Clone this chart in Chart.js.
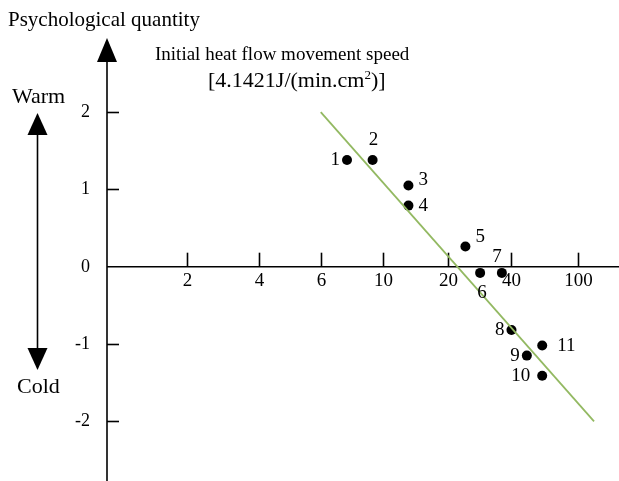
<!DOCTYPE html>
<html>
<head>
<meta charset="utf-8">
<script src="https://cdn.jsdelivr.net/npm/chart.js@4/dist/chart.umd.min.js"></script>
<style>
    body { margin: 0; background: #fff; }
</style>
</head>
<body>
<canvas id="chart" width="619" height="481"></canvas>
<script>
// heat flow axis is not evenly spaced, ticks sit at these places on the drawn axis
var xTickLabels = ['2', '4', '6', '10', '20', '40', '100'];
var xTickPos = [1.25, 2.37, 3.34, 4.31, 5.33, 6.31, 7.36];
var yTicks = [-2, -1, 0, 1, 2];

// measured points (psychological quantity vs heat flow speed)
var pointNames = ['1', '2', '3', '4', '5', '6', '7', '8', '9', '10', '11'];
var pointX = [3.75, 4.15, 4.71, 4.71, 5.6, 5.83, 6.17, 6.32, 6.56, 6.8, 6.8];
var pointY = [1.38, 1.38, 1.05, 0.79, 0.26, -0.08, -0.08, -0.82, -1.15, -1.41, -1.02];

// regression line ends
var fitX = [3.34, 7.61];
var fitY = [2, -2];

// where each number goes next to its dot: [dx, dy, align]
var labelPlace = [
    [-7, 0, 'right'], [1, -20, 'center'], [10, -5, 'left'], [10, 0, 'left'],
    [10, -10, 'left'], [2, 20, 'center'], [-5, -16, 'center'], [-7, 0, 'right'],
    [-7, 0, 'right'], [-12, 0, 'right'], [15, 0, 'left'],
];

var SERIF = '"Liberation Serif", "Times New Roman", serif';

function arrowHead(ctx, x, y, dir, w, len) {
    // dir = -1 points up, 1 points down
    ctx.beginPath();
    ctx.moveTo(x, y);
    ctx.lineTo(x - w / 2, y - dir * len);
    ctx.lineTo(x + w / 2, y - dir * len);
    ctx.closePath();
    ctx.fill();
}

var axesPlugin = {
    id: 'axesPlugin',
    beforeDatasetsDraw(chart) {
        var ctx = chart.ctx;
        var xs = chart.scales.x;
        var ys = chart.scales.y;
        var x0 = xs.getPixelForValue(0);
        var y0 = ys.getPixelForValue(0);
        ctx.save();
        ctx.strokeStyle = '#000';
        ctx.fillStyle = '#000';
        ctx.lineWidth = 1.6;
        // y axis
        ctx.beginPath();
        ctx.moveTo(x0, 55);
        ctx.lineTo(x0, 481);
        ctx.stroke();
        arrowHead(ctx, x0, 38, -1, 20, 24);
        // x axis
        ctx.beginPath();
        ctx.moveTo(x0, y0);
        ctx.lineTo(619, y0);
        ctx.stroke();

        ctx.font = '19px ' + SERIF;
        ctx.textBaseline = 'top';
        ctx.textAlign = 'center';
        xTickPos.forEach(function (p, i) {
            var px = Math.round(xs.getPixelForValue(p)) + 0.5;
            ctx.beginPath();
            ctx.moveTo(px, y0);
            ctx.lineTo(px, y0 - 14);
            ctx.stroke();
            ctx.fillText(xTickLabels[i], px, y0 + 5);
        });
        ctx.font = '18px ' + SERIF;
        ctx.textAlign = 'right';
        ctx.textBaseline = 'middle';
        yTicks.forEach(function (v) {
            var py = Math.round(ys.getPixelForValue(v)) + 0.5;
            if (v !== 0) {
                ctx.beginPath();
                ctx.moveTo(x0, py);
                ctx.lineTo(x0 + 12, py);
                ctx.stroke();
            }
            ctx.fillText(String(v), 90, py);
        });

        // warm / cold double arrow
        ctx.beginPath();
        ctx.moveTo(37.5, 125);
        ctx.lineTo(37.5, 360);
        ctx.stroke();
        arrowHead(ctx, 37.5, 113, -1, 20, 22);
        arrowHead(ctx, 37.5, 370, 1, 20, 22);

        ctx.textAlign = 'left';
        ctx.textBaseline = 'alphabetic';
        ctx.font = '21px ' + SERIF;
        ctx.fillText('Psychological quantity', 8, 26);
        ctx.font = '22px ' + SERIF;
        ctx.fillText('Warm', 12, 103);
        ctx.fillText('Cold', 17, 393);
        ctx.font = '19px ' + SERIF;
        ctx.fillText('Initial heat flow movement speed', 155, 60);
        ctx.font = '22px ' + SERIF;
        var s1 = '[4.1421J/(min.cm';
        ctx.fillText(s1, 208, 87);
        var w = ctx.measureText(s1).width;
        ctx.font = '13px ' + SERIF;
        ctx.fillText('2', 208 + w, 79);
        var w2 = ctx.measureText('2').width;
        ctx.font = '22px ' + SERIF;
        ctx.fillText(')]', 208 + w + w2, 87);
        ctx.restore();
    },
    afterDatasetsDraw(chart) {
        var ctx = chart.ctx;
        var meta = chart.getDatasetMeta(1);
        ctx.save();
        ctx.font = '19px ' + SERIF;
        ctx.fillStyle = '#000';
        ctx.textBaseline = 'middle';
        meta.data.forEach(function (pt, i) {
            var pl = labelPlace[i];
            ctx.textAlign = pl[2];
            ctx.fillText(pointNames[i], pt.x + pl[0], pt.y + pl[1]);
        });
        ctx.restore();
    },
};

new Chart(document.getElementById('chart'), {
    type: 'scatter',
    data: {
        datasets: [
            {
                type: 'line',
                data: fitX.map(function (x, i) { return { x: x, y: fitY[i] }; }),
                borderColor: '#93b962',
                borderWidth: 1.8,
                pointRadius: 0,
                fill: false,
                clip: false,
            },
            {
                data: pointX.map(function (x, i) { return { x: x, y: pointY[i] }; }),
                backgroundColor: '#000',
                borderColor: '#000',
                pointRadius: 5,
                borderWidth: 0,
                clip: false,
            },
        ],
    },
    options: {
        responsive: false,
        animation: false,
        layout: { autoPadding: false, padding: { left: 107, top: 38, right: 0, bottom: 0 } },
        plugins: { legend: { display: false }, tooltip: { enabled: false } },
        scales: {
            x: { type: 'linear', min: 0, max: 8, display: false },
            y: { type: 'linear', min: -2.772, max: 2.958, display: false },
        },
    },
    plugins: [axesPlugin],
});
</script>
</body>
</html>
